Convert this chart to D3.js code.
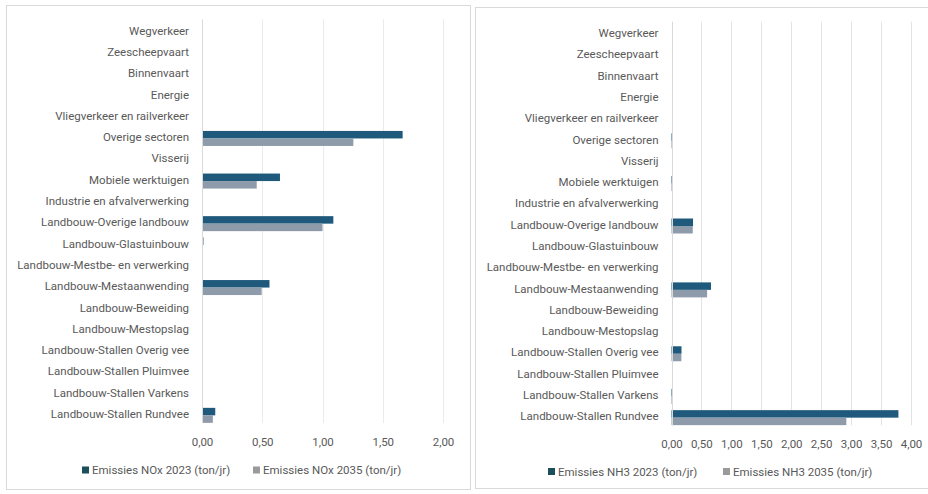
<!DOCTYPE html>
<html>
<head>
<meta charset="utf-8">
<script src="https://cdn.jsdelivr.net/npm/d3@7"></script>
<style>
  html, body { margin: 0; padding: 0; background: #ffffff; }
  svg { display: block; }
  text { font-family: Roboto, "Noto Sans", sans-serif; fill: #595959; }
</style>
</head>
<body>
<svg id="chart" width="928" height="494"></svg>
<script>
// Emission sources (top to bottom)
const categories = [
  "Wegverkeer",
  "Zeescheepvaart",
  "Binnenvaart",
  "Energie",
  "Vliegverkeer en railverkeer",
  "Overige sectoren",
  "Visserij",
  "Mobiele werktuigen",
  "Industrie en afvalverwerking",
  "Landbouw-Overige landbouw",
  "Landbouw-Glastuinbouw",
  "Landbouw-Mestbe- en verwerking",
  "Landbouw-Mestaanwending",
  "Landbouw-Beweiding",
  "Landbouw-Mestopslag",
  "Landbouw-Stallen Overig vee",
  "Landbouw-Stallen Pluimvee",
  "Landbouw-Stallen Varkens",
  "Landbouw-Stallen Rundvee"
];

// NOx emissions (ton/jr)
const nox2023 = [0, 0, 0, 0, 0, 1.665, 0, 0.647, 0, 1.09, 0.012, 0, 0.56, 0, 0, 0, 0, 0, 0.11];
const nox2035 = [0, 0, 0, 0, 0, 1.256, 0, 0.454, 0, 1.00, 0.008, 0, 0.495, 0, 0, 0, 0, 0, 0.09];

// NH3 emissions (ton/jr)
const nh32023 = [0, 0, 0, 0, 0, 0.01, 0, 0.01, 0, 0.36, 0, 0, 0.66, 0, 0, 0.167, 0, 0.02, 3.79];
const nh32035 = [0, 0, 0, 0, 0, 0.005, 0, 0.005, 0, 0.355, 0, 0, 0.595, 0, 0, 0.165, 0, 0.01, 2.92];

const noxTicks = [0, 0.5, 1.0, 1.5, 2.0];
const nh3Ticks = [0, 0.5, 1.0, 1.5, 2.0, 2.5, 3.0, 3.5, 4.0];

const noxLegend = ["Emissies NOx 2023 (ton/jr)", "Emissies NOx 2035 (ton/jr)"];
const nh3Legend = ["Emissies NH3 2023 (ton/jr)", "Emissies NH3 2035 (ton/jr)"];

const colors = ["#1f5a7d", "#8d9bab"];
const legendColors = ["#1d4f5a", "#9a9a9a"];

const nl = d3.formatLocale({ decimal: ",", thousands: ".", grouping: [3], currency: ["€", ""] });
const fmt = nl.format(".2f");

const svg = d3.select("#chart");

function panel(cfg) {
  const g = svg.append("g");

  // panel frame
  g.append("rect")
    .attr("x", cfg.frame[0]).attr("y", cfg.frame[1])
    .attr("width", cfg.frame[2]).attr("height", cfg.frame[3])
    .attr("fill", "#ffffff").attr("stroke", "#d9d9d9").attr("stroke-width", 1);

  const x = d3.scaleLinear().domain(cfg.domain).range([cfg.x0, cfg.x1]);
  const y = d3.scaleBand().domain(categories).range([cfg.y0, cfg.y1]).padding(0);
  const sub = d3.scaleBand().domain([0, 1]).range([0, y.bandwidth()]).paddingInner(0).paddingOuter(0.42);

  // vertical gridlines
  g.append("g").selectAll("line")
    .data(cfg.ticks.slice(1))
    .join("line")
    .attr("x1", d => Math.round(x(d)) + 0.5).attr("x2", d => Math.round(x(d)) + 0.5)
    .attr("y1", cfg.y0 - 1).attr("y2", cfg.y1 - 2)
    .attr("stroke", cfg.grid).attr("stroke-width", 1);

  // bars
  const series = [cfg.a, cfg.b];
  series.forEach((vals, si) => {
    g.append("g").selectAll("rect")
      .data(categories.map((c, i) => ({ c, v: vals[i] })).filter(d => d.v > 0))
      .join("rect")
      .attr("x", x(0))
      .attr("y", d => y(d.c) + sub(si) + 1)
      .attr("width", d => Math.max(1, x(d.v) - x(0)))
      .attr("height", sub.bandwidth())
      .attr("fill", colors[si]);
  });

  // zero axis line
  g.append("line")
    .attr("x1", Math.round(x(0)) + 0.5).attr("x2", Math.round(x(0)) + 0.5)
    .attr("y1", cfg.y0 - 1).attr("y2", cfg.y1 - 2)
    .attr("stroke", "#d9d9d9").attr("stroke-width", 1);

  // category labels
  const yAxis = g.append("g")
    .attr("transform", `translate(${cfg.x0 - 13},0)`)
    .call(d3.axisLeft(y).tickSize(0).tickPadding(0));
  yAxis.select(".domain").remove();
  yAxis.selectAll("text")
    .attr("font-size", "11.5px").attr("fill", "#595959")
    .style("font-family", "Roboto, sans-serif");

  // value axis labels
  const xAxis = g.append("g")
    .attr("transform", `translate(0,${cfg.tickY})`)
    .call(d3.axisBottom(x).tickValues(cfg.ticks).tickFormat(fmt).tickSize(0).tickPadding(0));
  xAxis.select(".domain").remove();
  xAxis.selectAll("text")
    .attr("font-size", "11.5px").attr("fill", "#595959")
    .attr("dy", "0.35em").attr("y", 0)
    .style("font-family", "Roboto, sans-serif");

  // legend
  cfg.legend.forEach((lab, i) => {
    const lx = cfg.legendX[i];
    g.append("rect")
      .attr("x", lx).attr("y", cfg.legendY - 3.5)
      .attr("width", 7).attr("height", 7)
      .attr("fill", legendColors[i]);
    g.append("text")
      .attr("x", lx + 10).attr("y", cfg.legendY)
      .attr("dy", "0.35em")
      .attr("font-size", "11.5px")
      .text(lab);
  });
}

panel({
  frame: [6.5, 5.5, 464, 484],
  domain: [0, 2], x0: 202, x1: 443,
  y0: 20.3, y1: 425,
  ticks: noxTicks, tickY: 441.5,
  a: nox2023, b: nox2035,
  grid: "#ebebeb",
  legend: noxLegend, legendX: [82, 253], legendY: 470
});

panel({
  frame: [475.5, 7.5, 460, 481],
  domain: [0, 4], x0: 671.5, x1: 911,
  y0: 22.7, y1: 427.3,
  ticks: nh3Ticks, tickY: 444,
  a: nh32023, b: nh32035,
  grid: "#e3e3e3",
  legend: nh3Legend, legendX: [548, 723], legendY: 471.5
});
</script>
</body>
</html>
